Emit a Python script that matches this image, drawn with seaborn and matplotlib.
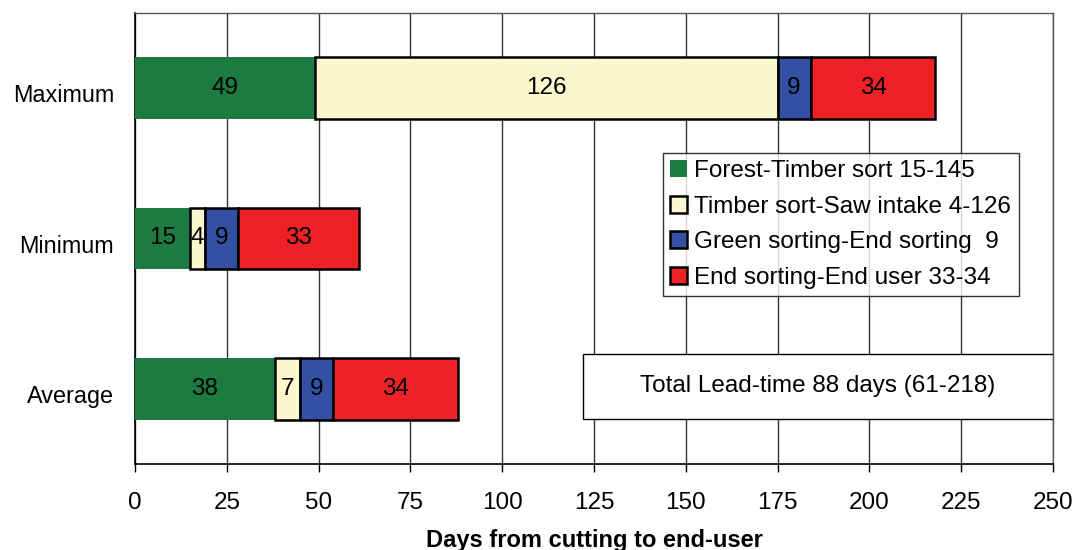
import numpy as np
import pandas as pd
import seaborn as sns
import matplotlib
matplotlib.use("Agg")
import matplotlib.pyplot as plt
from matplotlib.patches import Rectangle

# Lead-time stages (days) for each case
cases = ["Maximum", "Minimum", "Average"]
stages = [
    "Forest-Timber sort 15-145",
    "Timber sort-Saw intake 4-126",
    "Green sorting-End sorting  9",
    "End sorting-End user 33-34",
]
forest_timber = [49, 15, 38]
timber_saw = [126, 4, 7]
green_end = [9, 9, 9]
end_user = [34, 33, 34]
stage_values = [forest_timber, timber_saw, green_end, end_user]

stage_colors = ["#1b7b40", "#fbf8cf", "#3450a2", "#ee2226"]
stage_edges = ["none", "black", "black", "black"]
x_ticks = [0, 25, 50, 75, 100, 125, 150, 175, 200, 225, 250]
summary_text = "Total Lead-time 88 days (61-218)"
x_title = "Days from cutting to end-user"

sns.set_theme(style="white")
plt.rcParams["font.family"] = ["Liberation Sans", "DejaVu Sans"]
plt.rcParams["text.color"] = "black"
plt.rcParams["axes.labelcolor"] = "black"
plt.rcParams["xtick.color"] = "black"
plt.rcParams["ytick.color"] = "black"

fig = plt.figure(figsize=(10.81, 5.5), dpi=100)
ax = fig.add_axes([135 / 1081, 86 / 550, 918 / 1081, 451 / 550])

# Stacked horizontal bars: each stage starts where the previous one ended
left = np.zeros(len(cases))
for name, vals, col, edge in zip(stages, stage_values, stage_colors, stage_edges):
    df = pd.DataFrame({"case": cases, "days": vals})
    sns.barplot(data=df, x="days", y="case", order=cases, orient="h",
                width=0.41, color=col, saturation=1, edgecolor=edge,
                linewidth=1.8, left=left.copy(), label=name, ax=ax,
                errorbar=None, zorder=3)
    left += np.array(vals)

for cont, vals in zip(ax.containers, stage_values):
    ax.bar_label(cont, labels=[str(v) for v in vals], label_type="center",
                 fontsize=17.5, color="black")

ax.set_xlim(0, 250)
ax.set_xticks(x_ticks)
ax.set_xticklabels([str(t) for t in x_ticks], fontsize=17.5)
ax.tick_params(axis="x", direction="out", length=6, width=1, color="black",
               pad=14, bottom=True)
ax.tick_params(axis="y", length=0, pad=15, labelsize=16.8)
# case names sit a touch below the bar centres
ax.set_yticks([c + 0.035 for c in range(len(cases))])
ax.set_yticklabels(cases)
ax.set_ylim(2.5, -0.5)
ax.set_ylabel("")
ax.set_xlabel(x_title, fontsize=17, fontweight="bold", labelpad=11)

ax.grid(axis="x", color="#333333", linewidth=1.0, zorder=0)
ax.set_axisbelow(True)
for side in ["left", "bottom"]:
    ax.spines[side].set_color("black")
    ax.spines[side].set_linewidth(1.2)
for side in ["top", "right"]:
    ax.spines[side].set_visible(True)
    ax.spines[side].set_color("#555555")
    ax.spines[side].set_linewidth(1.0)

leg = ax.legend(loc="upper left", bbox_to_anchor=(0.575, 0.69), fontsize=17.5,
                frameon=True, fancybox=False, edgecolor="black",
                handlelength=0.7, handleheight=0.7, handletextpad=0.3,
                labelspacing=0.56, borderpad=0.3, borderaxespad=0)
leg.get_frame().set_linewidth(1.0)
leg.set_zorder(5)

box = Rectangle((0.488, 0.0998), 0.512, 0.144, transform=ax.transAxes,
                facecolor="white", edgecolor="black", linewidth=1.0, zorder=4)
ax.add_patch(box)
ax.text(0.744, 0.172, summary_text, transform=ax.transAxes, ha="center",
        va="center", fontsize=17.5, zorder=6)

fig.savefig("out.png", dpi=100)
